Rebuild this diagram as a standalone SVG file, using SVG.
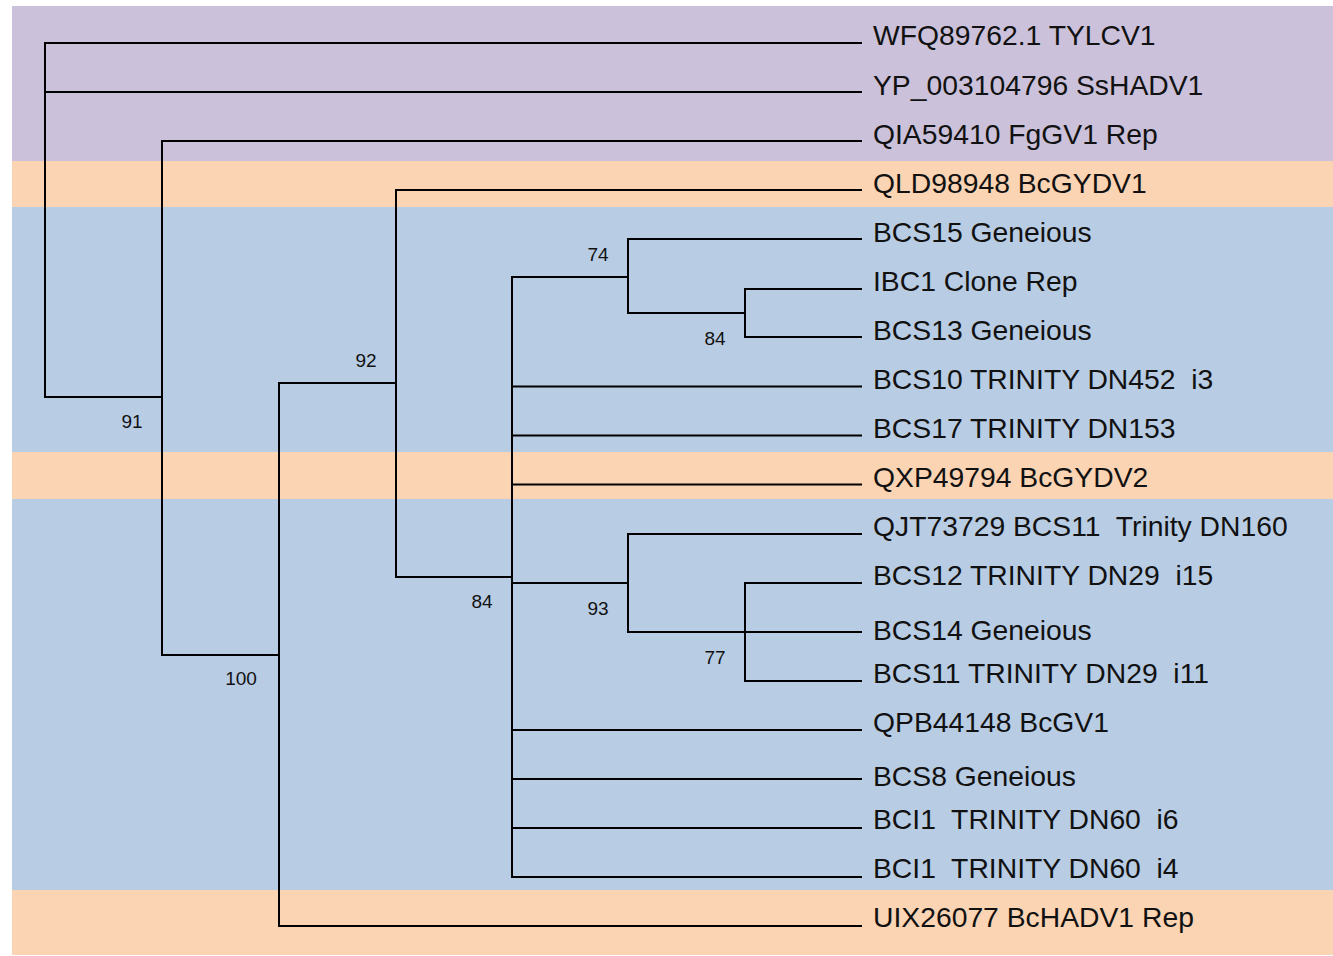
<svg xmlns="http://www.w3.org/2000/svg" width="1333" height="956" viewBox="0 0 1333 956">
<style>
.leaf{font-family:"Liberation Sans",Arial,sans-serif;font-size:28.3px;fill:#111;white-space:pre}
.bs{font-family:"Liberation Sans",Arial,sans-serif;font-size:19px;fill:#111;text-anchor:middle}
.br{fill:none;stroke:#000;stroke-width:2;stroke-linecap:square}
</style>
<rect width="1333" height="956" fill="#fff"/>
<g id="bands">
<rect x="12" y="6" width="1321" height="155" fill="#CBC1DA"/>
<rect x="12" y="161" width="1321" height="46" fill="#FBD4B4"/>
<rect x="12" y="207" width="1321" height="245" fill="#B8CCE4"/>
<rect x="12" y="452" width="1321" height="47" fill="#FBD4B4"/>
<rect x="12" y="499" width="1321" height="391" fill="#B8CCE4"/>
<rect x="12" y="890" width="1321" height="65" fill="#FBD4B4"/>
</g>
<g id="connectors" class="br">
<path d="M45,43 H861 M45,92 H861 M45,43 V397 H162"/>
<path d="M162,141 V655 M162,141 H861 M162,655 H279"/>
<path d="M279,383 V926 M279,926 H861 M279,383 H396"/>
<path d="M396,190 V577 M396,190 H861 M396,577 H512"/>
<path d="M512,277 V877 M512,277 H628 M512,583 H628 M512,386.5 H861 M512,435.5 H861 M512,484.5 H861 M512,730 H861 M512,779 H861 M512,828 H861 M512,877 H861"/>
<path d="M628,239 V313 M628,239 H861 M628,313 H745"/>
<path d="M745,289 V337 M745,289 H861 M745,337 H861"/>
<path d="M628,534 V632 M628,534 H861 M628,632 H861"/>
<path d="M745,583 V681 M745,583 H861 M745,681 H861"/>
</g>
<g id="n91"><text class="bs" x="132" y="428">91</text></g>
<g id="n100"><text class="bs" x="241" y="685">100</text></g>
<g id="n92"><text class="bs" x="366" y="367">92</text></g>
<g id="n84a"><text class="bs" x="482" y="608">84</text></g>
<g id="n74"><text class="bs" x="598" y="261">74</text></g>
<g id="n84b"><text class="bs" x="715" y="345">84</text></g>
<g id="n93"><text class="bs" x="598" y="615">93</text></g>
<g id="n77"><text class="bs" x="715" y="664">77</text></g>
<g id="leaf1"><text class="leaf" x="873" y="45">WFQ89762.1 TYLCV1</text></g>
<g id="leaf2"><text class="leaf" x="873" y="94.5">YP_003104796 SsHADV1</text></g>
<g id="leaf3"><text class="leaf" x="873" y="143.5">QIA59410 FgGV1 Rep</text></g>
<g id="leaf4"><text class="leaf" x="873" y="192.5">QLD98948 BcGYDV1</text></g>
<g id="leaf5"><text class="leaf" x="873" y="241.5">BCS15 Geneious</text></g>
<g id="leaf6"><text class="leaf" x="873" y="291">IBC1 Clone Rep</text></g>
<g id="leaf7"><text class="leaf" x="873" y="340">BCS13 Geneious</text></g>
<g id="leaf8"><text class="leaf" x="873" y="389">BCS10 TRINITY DN452  i3</text></g>
<g id="leaf9"><text class="leaf" x="873" y="438">BCS17 TRINITY DN153</text></g>
<g id="leaf10"><text class="leaf" x="873" y="487">QXP49794 BcGYDV2</text></g>
<g id="leaf11"><text class="leaf" x="873" y="535.5">QJT73729 BCS11  Trinity DN160</text></g>
<g id="leaf12"><text class="leaf" x="873" y="585">BCS12 TRINITY DN29  i15</text></g>
<g id="leaf13"><text class="leaf" x="873" y="640">BCS14 Geneious</text></g>
<g id="leaf14"><text class="leaf" x="873" y="683">BCS11 TRINITY DN29  i11</text></g>
<g id="leaf15"><text class="leaf" x="873" y="732">QPB44148 BcGV1</text></g>
<g id="leaf16"><text class="leaf" x="873" y="785.5">BCS8 Geneious</text></g>
<g id="leaf17"><text class="leaf" x="873" y="828.5">BCI1  TRINITY DN60  i6</text></g>
<g id="leaf18"><text class="leaf" x="873" y="877.5">BCI1  TRINITY DN60  i4</text></g>
<g id="leaf19"><text class="leaf" x="873" y="927">UIX26077 BcHADV1 Rep</text></g>
</svg>
